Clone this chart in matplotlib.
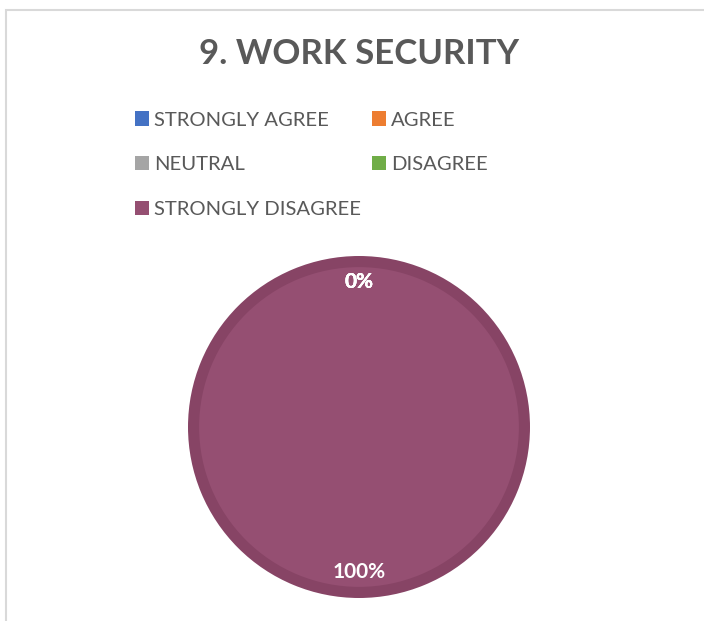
import matplotlib.pyplot as plt
from matplotlib.patches import Rectangle, Patch

categories = ["STRONGLY AGREE", "AGREE", "NEUTRAL", "DISAGREE", "STRONGLY DISAGREE"]
values = [0, 0, 0, 0, 100]
colors = ["#4472C4", "#ED7D31", "#A5A5A5", "#70AD47", "#954F72"]
rim_colors = ["#3B64AD", "#D06D2A", "#909090", "#62983E", "#874465"]

W, H = 704, 621
fig = plt.figure(figsize=(W / 100, H / 100), dpi=100)
fig.patch.set_facecolor("white")

# chart frame (runs off right and bottom edges)
fig.patches.append(Rectangle((5.5 / W, -0.1), 1.2, 1.1 - 10 / H,
                             transform=fig.transFigure, fill=False,
                             edgecolor="#D9D9D9", linewidth=1.5))

fig.text(359 / W, 1 - 54 / H, "9. WORK SECURITY", ha="center", va="center",
         fontsize=25, fontweight="bold", color="#595959", family="Lato")

# pie
cx, cy, r = 359, 427, 171
ax = fig.add_axes([(cx - r) / W, 1 - (cy + r) / H, 2 * r / W, 2 * r / H])

wedges, _, autotexts = ax.pie(values, colors=rim_colors, startangle=90,
                              counterclock=False, autopct="%1.0f%%",
                              pctdistance=0.85, radius=1.0,
                              wedgeprops=dict(linewidth=0))
ax.pie(values, colors=colors, startangle=90, counterclock=False,
       radius=0.935, wedgeprops=dict(linewidth=0))
ax.set_xlim(-1, 1)
ax.set_ylim(-1, 1)
ax.set_aspect("equal")
ax.axis("off")
for t in autotexts:
    t.set_color("white")
    t.set_fontweight("bold")
    t.set_fontsize(15)
    t.set_family("Lato")
    t.set_zorder(5)

# legend, filled row by row like the original
order = [0, 2, 4, 1, 3]
handles = [Patch(facecolor=colors[i], edgecolor="none") for i in order]
labels = [categories[i] for i in order]
leg = fig.legend(handles, labels, ncol=2, loc="upper left",
                 bbox_to_anchor=(117 / W, 1 - 93 / H), frameon=False,
                 prop=dict(family="Lato", size=14.6), labelcolor="#595959",
                 handlelength=0.68, handleheight=0.72, handletextpad=0.25,
                 columnspacing=0.55, labelspacing=1.35)

fig.savefig("out.png", dpi=100)
